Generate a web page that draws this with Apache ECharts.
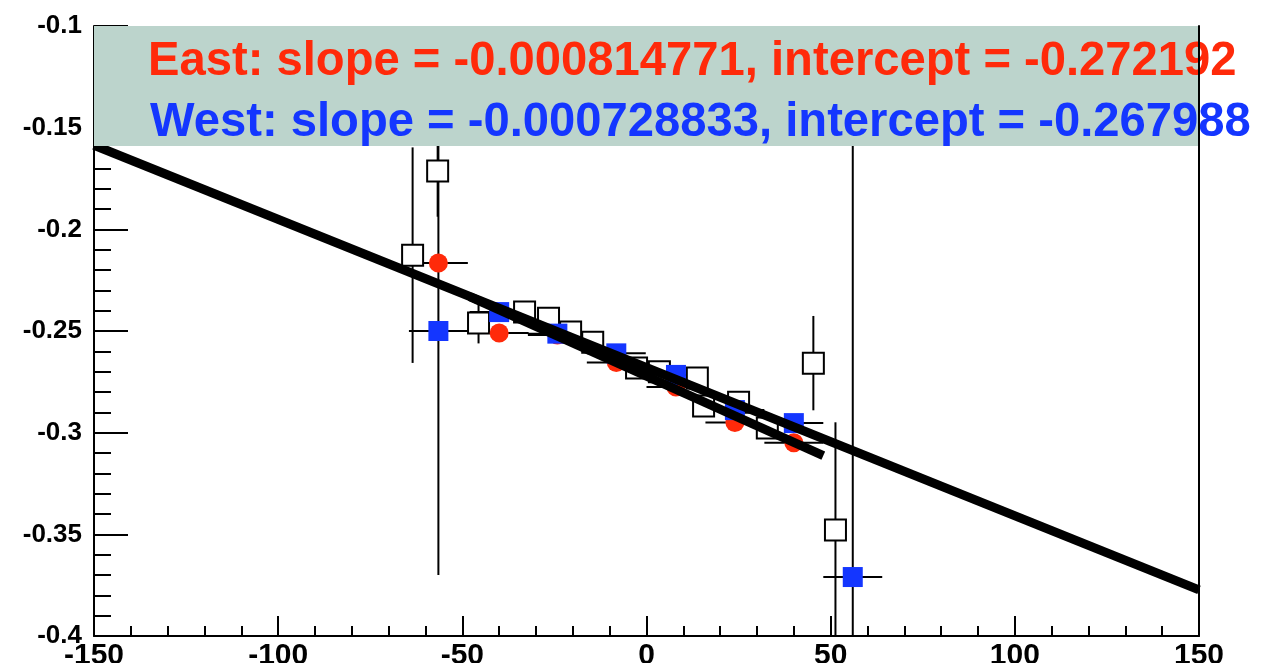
<!DOCTYPE html>
<html>
<head>
<meta charset="utf-8">
<script src="https://cdn.jsdelivr.net/npm/echarts@6/dist/echarts.min.js"></script>
<style>
  html, body { margin: 0; padding: 0; background: #ffffff; }
  #chart { width: 1277px; height: 663px; }
</style>
</head>
<body>
<div id="chart"></div>
<script>
// ---- data ----------------------------------------------------------------
// East arm (red circles)
const eastX  = [-56.5, -40.0, -24.2, -8.2, 8.0, 24.0, 40.0];
const eastY  = [-0.2166, -0.2510, -0.2520, -0.2655, -0.2775, -0.2950, -0.3050];
const eastEx = [8, 8, 8, 8, 8, 8, 8];
const eastEy = [0.004, 0.003, 0.003, 0.003, 0.003, 0.003, 0.004];

// West arm (blue squares)
const westX  = [-56.5, -40.0, -24.2, -8.2, 8.0, 24.0, 40.0, 56.0];
const westY  = [-0.2500, -0.2407, -0.2513, -0.2610, -0.2716, -0.2889, -0.2953, -0.3710];
const westEx = [8, 8, 8, 8, 8, 8, 8, 8];
const westEy = [0.120, 0.003, 0.003, 0.003, 0.003, 0.003, 0.004, 0.250];

// Combined sample (open squares)
const allX  = [-63.5, -56.7, -45.6, -33.1, -26.6, -20.6, -14.6, -2.7, 3.5, 13.8, 15.5, 25.0, 32.8, 45.3, 51.3];
const allY  = [-0.2127, -0.1713, -0.2461, -0.2407, -0.2437, -0.2505, -0.2555, -0.2682, -0.2700, -0.2731, -0.2869, -0.2850, -0.2977, -0.2658, -0.3479];
const allEy = [0.053, 0.0225, 0.010, 0.004, 0.004, 0.004, 0.004, 0.004, 0.004, 0.004, 0.004, 0.004, 0.004, 0.0232, 0.053];

// Linear fits
const eastFit = { slope: -0.000814771, intercept: -0.272192, from: -48, to: 48 };
const westFit = { slope: -0.000728833, intercept: -0.267988, from: -150, to: 150 };

// Axes
const xTicks = [-150, -100, -50, 0, 50, 100, 150];
const yTicks = [-0.4, -0.35, -0.3, -0.25, -0.2, -0.15, -0.1];
const yBoxBottom = -0.159;

// ---- styling ---------------------------------------------------------------
const RED = '#ff2a0a';
const BLUE = '#1436ff';
const BOX = '#bcd4cc';
const FONT = "'Liberation Sans', Arial, Helvetica, sans-serif";

const GRID = { left: 94, right: 78, top: 26, bottom: 27 };

const chart = echarts.init(document.getElementById('chart'), null, { renderer: 'canvas' });

function pairs(xs, ys) { return xs.map((x, i) => [x, ys[i]]); }

function fitLine(f) {
  return [[f.from, f.slope * f.from + f.intercept], [f.to, f.slope * f.to + f.intercept]];
}

function errorBars(xs, ys, exs, eys) {
  return {
    type: 'custom',
    clip: true,
    z: 1,
    silent: true,
    data: xs.map((x, i) => [x, ys[i], exs ? exs[i] : 0, eys ? eys[i] : 0]),
    renderItem(params, api) {
      const x = api.value(0), y = api.value(1), ex = api.value(2), ey = api.value(3);
      const kids = [];
      const st = { stroke: '#000', lineWidth: 2 };
      if (ey > 0) {
        const a = api.coord([x, y + ey]), b = api.coord([x, y - ey]);
        kids.push({ type: 'line', shape: { x1: a[0], y1: a[1], x2: b[0], y2: b[1] }, style: st });
      }
      if (ex > 0) {
        const a = api.coord([x - ex, y]), b = api.coord([x + ex, y]);
        kids.push({ type: 'line', shape: { x1: a[0], y1: a[1], x2: b[0], y2: b[1] }, style: st });
      }
      return { type: 'group', children: kids };
    }
  };
}

const fmt = v => String(+(+v).toFixed(2));

const option = {
  animation: false,
  backgroundColor: '#ffffff',
  grid: {
    left: GRID.left, right: GRID.right, top: GRID.top, bottom: GRID.bottom,
    containLabel: false, outerBoundsMode: 'none'
  },
  xAxis: {
    type: 'value',
    min: xTicks[0], max: xTicks[xTicks.length - 1], interval: 50,
    axisLine: { show: true, onZero: false, lineStyle: { color: '#000', width: 2 } },
    axisTick: { show: true, inside: true, length: 20, lineStyle: { color: '#000', width: 2 } },
    minorTick: { show: true, splitNumber: 5, length: 10, lineStyle: { color: '#000', width: 2 } },
    splitLine: { show: false },
    axisLabel: {
      show: true, margin: 5, color: '#000', fontFamily: FONT, fontWeight: 'bold', fontSize: 30,
      formatter: v => String(v)
    }
  },
  yAxis: [{
    type: 'value',
    min: yTicks[0], max: yTicks[yTicks.length - 1], interval: 0.05,
    axisLine: { show: true, onZero: false, lineStyle: { color: '#000', width: 2 } },
    axisTick: { show: true, inside: true, length: 34, lineStyle: { color: '#000', width: 2 } },
    minorTick: { show: true, splitNumber: 5, length: 17, lineStyle: { color: '#000', width: 2 } },
    splitLine: { show: false },
    axisLabel: {
      show: true, margin: 12, color: '#000', fontFamily: FONT, fontWeight: 'bold', fontSize: 26,
      formatter: fmt
    }
  }, {
    type: 'value', position: 'right', z: 30,
    min: yTicks[0], max: yTicks[yTicks.length - 1], interval: 0.05,
    axisLine: { show: true, onZero: false, lineStyle: { color: '#000', width: 2 } },
    axisTick: { show: false }, axisLabel: { show: false }, splitLine: { show: false }
  }],
  series: [
    errorBars(allX, allY, null, allEy),
    errorBars(eastX, eastY, eastEx, eastEy),
    errorBars(westX, westY, westEx, westEy),
    {
      name: 'All', type: 'scatter', z: 2, symbol: 'rect', symbolSize: 21,
      itemStyle: { color: '#ffffff', borderColor: '#000', borderWidth: 2, opacity: 1 },
      data: pairs(allX, allY)
    },
    {
      name: 'East', type: 'scatter', z: 3, symbol: 'circle', symbolSize: 19,
      itemStyle: { color: RED, opacity: 1 },
      data: pairs(eastX, eastY)
    },
    {
      name: 'West', type: 'scatter', z: 4, symbol: 'rect', symbolSize: 20,
      itemStyle: { color: BLUE, opacity: 1 },
      data: pairs(westX, westY)
    },
    {
      name: 'East fit', type: 'line', z: 5, symbol: 'none', silent: true,
      lineStyle: { color: '#000', width: 9, cap: 'butt' },
      data: fitLine(eastFit)
    },
    {
      name: 'West fit', type: 'line', z: 5, symbol: 'none', silent: true,
      lineStyle: { color: '#000', width: 9, cap: 'butt' },
      data: fitLine(westFit)
    }
  ]
};

chart.setOption(option);

// Fit-result box across the top of the frame
const tl = chart.convertToPixel({ xAxisIndex: 0, yAxisIndex: 0 }, [xTicks[0], yTicks[yTicks.length - 1]]);
const br = chart.convertToPixel({ xAxisIndex: 0, yAxisIndex: 0 }, [xTicks[xTicks.length - 1], yBoxBottom]);
const fitText = f => 'slope = ' + f.slope + ', intercept = ' + f.intercept;

chart.setOption({
  graphic: [
    {
      type: 'rect', z: 20, silent: true,
      shape: { x: tl[0], y: tl[1], width: br[0] - tl[0], height: br[1] - tl[1] },
      style: { fill: BOX }
    },
    {
      type: 'text', z: 21, silent: true, x: tl[0] + 54, y: tl[1] + 36,
      style: { text: 'East: ' + fitText(eastFit), fill: RED, font: 'bold 47.2px ' + FONT, verticalAlign: 'middle' }
    },
    {
      type: 'text', z: 21, silent: true, x: tl[0] + 56, y: tl[1] + 97,
      style: { text: 'West: ' + fitText(westFit), fill: BLUE, font: 'bold 47.2px ' + FONT, verticalAlign: 'middle' }
    }
  ]
});
</script>
</body>
</html>
